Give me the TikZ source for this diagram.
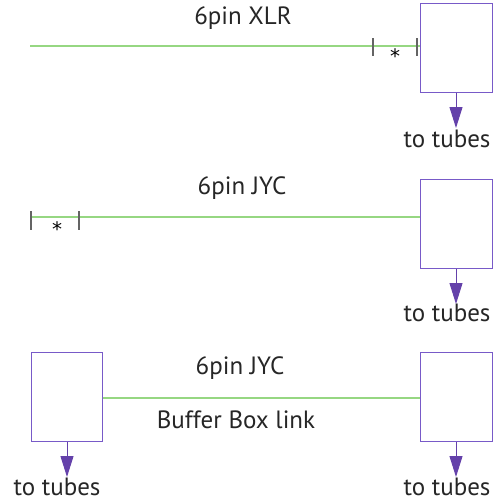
\documentclass[tikz,border=0pt]{standalone}
\usepackage{fontspec}
\setmainfont{PT Sans}
\newfontfamily\starfont{DejaVu Sans}
\usetikzlibrary{arrows.meta}
\definecolor{boxc}{RGB}{120,90,200}
\definecolor{arrc}{RGB}{100,65,170}
\definecolor{wire}{RGB}{150,215,130}
\definecolor{tick}{RGB}{100,100,100}
\tikzset{
  unit/.style={draw=boxc, line width=1pt, minimum width=72pt, minimum height=89pt, inner sep=0pt},
  feed/.style={draw=arrc, line width=1pt, -{Triangle[length=21pt,width=13pt]}},
  cable/.style={draw=wire, line width=1.2pt},
  tickm/.style={draw=tick, line width=1.2pt},
  lbl/.style={font=\fontsize{25}{28}\selectfont, text=black!85, inner sep=0pt},
  star/.style={font=\starfont\fontsize{20}{22}\selectfont, inner sep=0pt, anchor=base}
}
\begin{document}
\begin{tikzpicture}[x=1pt,y=-1pt]
\useasboundingbox (0,0) rectangle (496,501);
% row 1
\node[unit] (b1) at (456,47.5) {};
\node[lbl] (t1) at (447,139) {to tubes};
\coordinate (l1) at (30,46);
\draw[cable] (l1) -- (b1.west |- l1);
\coordinate (k1a) at (373,38); \coordinate (k1b) at (373,56);
\coordinate (k2a) at (417,38); \coordinate (k2b) at (417,56);
\draw[tickm] (k1a) -- (k1b);
\draw[tickm] (k2a) -- (k2b);
\node[star] (s1) at (395,63) {*};
\node[lbl] (h1) at (243,18) {6pin XLR};
\coordinate (a1) at (456,128);
\draw[feed] (b1.south) -- (a1);
% row 2
\node[unit] (b2) at (456,223.5) {};
\node[lbl] (t2) at (447,313) {to tubes};
\coordinate (l2) at (30,217);
\draw[cable] (l2) -- (b2.west |- l2);
\coordinate (k3a) at (31,211); \coordinate (k3b) at (31,230);
\coordinate (k4a) at (79,211); \coordinate (k4b) at (79,230);
\draw[tickm] (k3a) -- (k3b);
\draw[tickm] (k4a) -- (k4b);
\node[star] (s2) at (57,236) {*};
\node[lbl] (h2) at (242,188) {6pin JYC};
\coordinate (a2) at (456,304);
\draw[feed] (b2.south) -- (a2);
% row 3
\node[unit, minimum width=71pt] (b3) at (66.5,397) {};
\node[unit] (b4) at (456,397) {};
\draw[cable] (b3.east |- 0,398) -- (b4.west |- 0,398);
\node[lbl] (h3) at (240,368) {6pin JYC};
\node[lbl] (h4) at (236,420) {Buffer Box link};
\node[lbl] (t3) at (57,487) {to tubes};
\node[lbl] (t4) at (447,487) {to tubes};
\coordinate (a3) at (67,477);
\coordinate (a4) at (456,477);
\draw[feed] (b3.south -| a3) -- (a3);
\draw[feed] (b4.south) -- (a4);
\end{tikzpicture}
\end{document}
